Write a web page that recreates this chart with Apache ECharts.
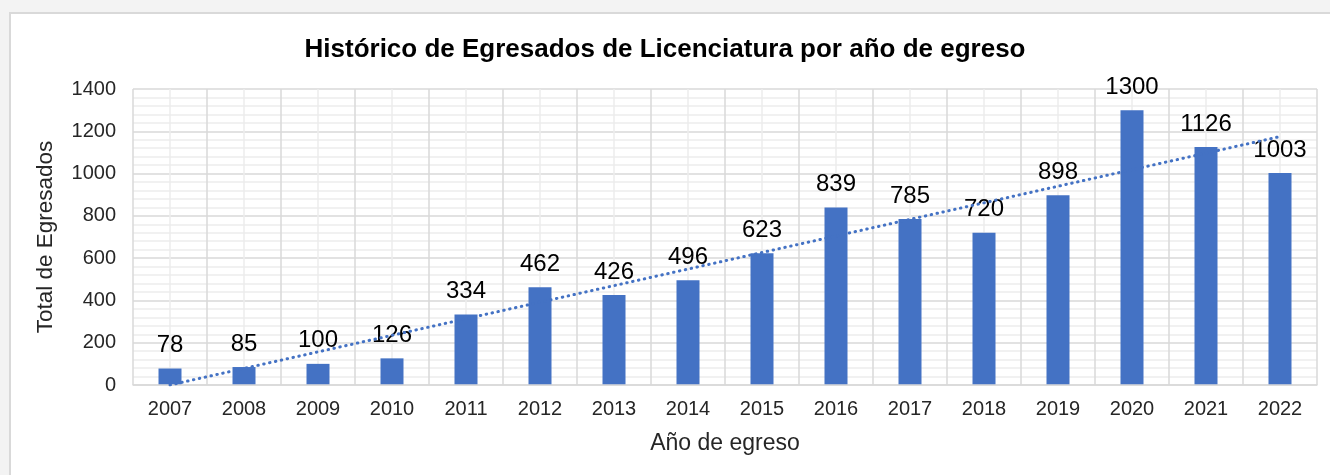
<!DOCTYPE html>
<html>
<head>
<meta charset="utf-8">
<script src="https://cdn.jsdelivr.net/npm/echarts@6/dist/echarts.min.js"></script>
<style>
  html, body { margin: 0; padding: 0; width: 1330px; height: 475px; overflow: hidden; background: #f3f3f3; }
  #frame { position: absolute; left: 9px; top: 12px; width: 1330px; height: 475px; background: #ffffff; border-left: 2px solid #d9d9d9; border-top: 2px solid #d9d9d9; }
  #chart { position: absolute; left: 0; top: 0; width: 1330px; height: 475px; }
</style>
</head>
<body>
<div id="frame"></div>
<div id="chart"></div>
<script>
const titleText = 'Histórico de Egresados de Licenciatura por año de egreso';
const categories = ['2007','2008','2009','2010','2011','2012','2013','2014','2015','2016','2017','2018','2019','2020','2021','2022'];
const egresados = [78, 85, 100, 126, 334, 462, 426, 496, 623, 839, 785, 720, 898, 1300, 1126, 1003];
const trendEnds = [0, 1175];
const yTicks = { min: 0, max: 1400, interval: 200 };
const yAxisName = 'Total de Egresados';
const xAxisName = 'Año de egreso';

const chart = echarts.init(document.getElementById('chart'), null, { renderer: 'canvas' });
const font = 'Liberation Sans, Arial, Helvetica, sans-serif';
const nCat = categories.length;

chart.setOption({
  backgroundColor: 'transparent',
  animation: false,
  textStyle: { fontFamily: font },
  title: {
    text: titleText,
    left: 'center',
    top: 32,
    textStyle: { fontFamily: font, fontSize: 26, fontWeight: 'bold', color: '#000000' }
  },
  grid: { left: 133, right: 13, top: 89, bottom: 90, containLabel: false },
  xAxis: [
    {
      type: 'category',
      data: categories,
      boundaryGap: true,
      name: xAxisName,
      nameLocation: 'middle',
      nameGap: 47,
      nameTextStyle: { fontFamily: font, fontSize: 23, color: '#262626' },
      axisLine: { show: true, lineStyle: { color: '#d9d9d9', width: 1.5 } },
      axisTick: { show: false },
      axisLabel: { margin: 14, fontSize: 20, color: '#262626', fontFamily: font },
      splitLine: { show: false },
      z: 3
    },
    {
      type: 'value',
      position: 'top',
      min: 0,
      max: nCat * 2,
      interval: 2,
      axisLine: { show: false },
      axisTick: { show: false },
      axisLabel: { show: false },
      minorTick: { show: false, splitNumber: 2 },
      splitLine: { show: true, lineStyle: { color: '#d9d9d9', width: 1.5 } },
      minorSplitLine: { show: true, lineStyle: { color: '#ededed', width: 1.5 } }
    }
  ],
  yAxis: {
    type: 'value',
    min: yTicks.min,
    max: yTicks.max,
    interval: yTicks.interval,
    name: yAxisName,
    nameLocation: 'middle',
    nameGap: 76,
    nameRotate: 90,
    nameTextStyle: { fontFamily: font, fontSize: 22.5, color: '#262626' },
    axisLine: { show: false },
    axisTick: { show: false },
    axisLabel: { margin: 17, fontSize: 20, color: '#262626', fontFamily: font, formatter: function (v) { return String(v); } },
    minorTick: { show: false, splitNumber: 5 },
    splitLine: { show: true, lineStyle: { color: '#d9d9d9', width: 1.5 } },
    minorSplitLine: { show: true, lineStyle: { color: '#ededed', width: 1.5 } }
  },
  series: [
    {
      type: 'bar',
      xAxisIndex: 0,
      yAxisIndex: 0,
      data: egresados,
      barWidth: 23,
      itemStyle: { color: '#4472C4' },
      label: {
        show: true,
        position: 'top',
        distance: 11,
        fontSize: 24,
        color: '#000000',
        fontFamily: font
      },
      z: 2
    },
    {
      type: 'line',
      xAxisIndex: 0,
      yAxisIndex: 0,
      data: [[0, trendEnds[0]], [nCat - 1, trendEnds[1]]],
      symbol: 'none',
      lineStyle: { color: '#4472C4', width: 3, type: [0.5, 5.5], cap: 'round' },
      silent: true,
      z: 3
    }
  ]
});
</script>
</body>
</html>
